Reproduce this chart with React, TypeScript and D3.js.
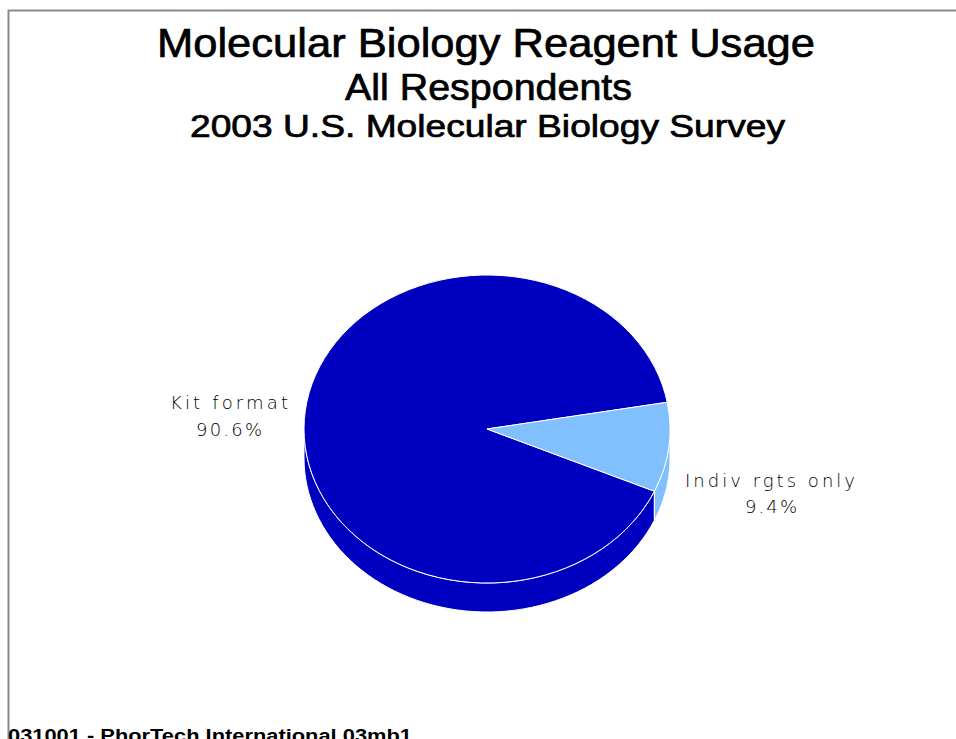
import React from "react";
import * as d3 from "d3";

const categories = ["Kit format", "Indiv rgts only"];
const shares = [90.6, 9.4];
const shareLabels = ["90.6%", "9.4%"];
const titleLines = [
  "Molecular Biology Reagent Usage",
  "All Respondents",
  "2003 U.S. Molecular Biology Survey",
];
const footer = "031001 - PhorTech International 03mb1";

const sliceColors = ["#0000c0", "#80c0ff"];
const borderColor = "#8a8a8a";

const width = 956;
const height = 739;
const cx = 487;
const cy = 429;
const rx = 183;
const ry = 154;
const depth = 29;

// angle where the first slice starts (d3 convention: 0 = 12 o'clock)
const startDeg = 113.84;

type Slice = { start: number; end: number; index: number };

const pt = (a: number, dy = 0) => [cx + rx * Math.sin(a), cy - ry * Math.cos(a) + dy];

// front wall pieces of each slice (the half of the ellipse facing the viewer)
function sidePieces(s: Slice) {
  const out: { a0: number; a1: number; index: number }[] = [];
  for (let k = -1; k <= 2; k++) {
    const f0 = Math.PI / 2 + 2 * Math.PI * k;
    const f1 = (3 * Math.PI) / 2 + 2 * Math.PI * k;
    const a0 = Math.max(s.start, f0);
    const a1 = Math.min(s.end, f1);
    if (a1 > a0) out.push({ a0, a1, index: s.index });
  }
  return out;
}

function sidePath(a0: number, a1: number) {
  const steps = 60;
  const top = d3.range(steps + 1).map((i) => pt(a0 + ((a1 - a0) * i) / steps));
  const bottom = d3.range(steps + 1).map((i) => pt(a1 - ((a1 - a0) * i) / steps, depth));
  const line = d3.line();
  return line([...top, ...bottom] as [number, number][]) + "Z";
}

export default function App() {
  const start = (startDeg * Math.PI) / 180;
  const pie = d3
    .pie<number>()
    .sort(null)
    .startAngle(start)
    .endAngle(start + 2 * Math.PI);
  const arcs = pie(shares);
  const slices: Slice[] = arcs.map((a, i) => ({ start: a.startAngle, end: a.endAngle, index: i }));
  const arc = d3.arc<d3.PieArcDatum<number>>().innerRadius(0).outerRadius(rx);
  const sides = slices.flatMap(sidePieces);

  return (
    <svg
      width={width}
      height={height}
      style={{ position: "absolute", left: 0, top: 0, display: "block", background: "#fff" }}
    >
      <rect width={width} height={height} fill="#fff" />
      <path d={`M8.5,${height} V10.5 H${width}`} fill="none" stroke={borderColor} strokeWidth={2} />

      <g
        fontFamily="'Liberation Sans', Arial, sans-serif"
        fill="#000"
        stroke="#000"
        strokeWidth={0.7}
        textAnchor="middle"
      >
        <text x={486} y={57} fontSize={40} textLength={658} lengthAdjust="spacingAndGlyphs">
          {titleLines[0]}
        </text>
        <text x={488.5} y={100} fontSize={36} textLength={287} lengthAdjust="spacingAndGlyphs">
          {titleLines[1]}
        </text>
        <text x={487.5} y={137} fontSize={31} textLength={595} lengthAdjust="spacingAndGlyphs">
          {titleLines[2]}
        </text>
      </g>

      {/* side walls */}
      {sides.map((p, i) => (
        <path
          key={i}
          d={sidePath(p.a0, p.a1)}
          fill={sliceColors[p.index]}
          stroke="#fff"
          strokeWidth={1}
          strokeLinejoin="round"
        />
      ))}

      {/* top face */}
      <g transform={`translate(${cx},${cy}) scale(1,${ry / rx})`}>
        {arcs.map((a, i) => (
          <path
            key={i}
            d={arc(a) || ""}
            fill={sliceColors[i]}
            stroke="#fff"
            strokeWidth={1}
            vectorEffect="non-scaling-stroke"
          />
        ))}
      </g>

      <g fontFamily="'DejaVu Sans', sans-serif" fontWeight={200} fontSize={18} fill="#000" textAnchor="middle">
        <text x={229} y={409} textLength={118}>{categories[0]}</text>
        <text x={229} y={436} textLength={66}>{shareLabels[0]}</text>
        <text x={770} y={487} textLength={170}>{categories[1]}</text>
        <text x={771} y={513} textLength={52}>{shareLabels[1]}</text>
      </g>

      <text
        x={8}
        y={742}
        fontFamily="'Liberation Sans', Arial, sans-serif"
        fontWeight="bold"
        fontSize={18}
        textLength={404}
        lengthAdjust="spacingAndGlyphs"
      >
        {footer}
      </text>
    </svg>
  );
}
